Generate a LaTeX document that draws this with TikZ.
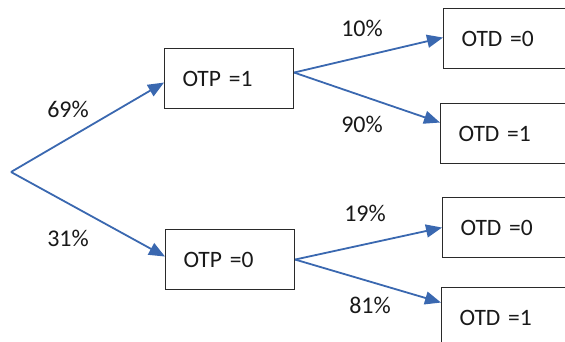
\documentclass[tikz,border=0pt]{standalone}
\usepackage{fontspec}
\setmainfont[WordSpace={0.7,0,0}]{Carlito}
\usetikzlibrary{arrows.meta,calc}
\definecolor{arrowblue}{HTML}{3A68B0}
\definecolor{boxline}{HTML}{2A2A2A}
\tikzset{
  probbox/.style={draw=boxline, line width=1.1pt, rectangle, minimum height=60pt,
    inner xsep=18pt, inner ysep=0pt, align=left, anchor=north west,
    font=\fontsize{23.5}{27}\selectfont, text=black!90},
  conn/.style={draw=arrowblue, line width=1.8pt, -{Triangle[length=16pt,width=13pt]}},
  pct/.style={font=\fontsize{24}{28}\selectfont, text=black!90}
}
\begin{document}
\begin{tikzpicture}[x=1pt,y=-1pt]
\clip (0,0) rectangle (565,342);
\useasboundingbox (0,0) rectangle (565,342);
\coordinate (root) at (11,172);
\node[probbox, text width=93pt] (p1) at (164,48) {OTP =1};
\node[probbox, text width=93pt] (p0) at (165,229) {OTP =0};
\node[probbox, text width=110pt] (d10) at (443,8) {OTD =0};
\node[probbox, text width=110pt] (d11) at (440,103) {OTD =1};
\node[probbox, text width=110pt] (d00) at (442,197) {OTD =0};
\node[probbox, text width=110pt] (d01) at (441,287) {OTD =1};
\draw[conn] (root) -- ($(p1.west)+(0,4)$);
\draw[conn] (root) -- ($(p0.west)+(0,-3)$);
\draw[conn] ($(p1.east)+(0,-6)$) -- ($(d10.west)+(0,-1)$);
\draw[conn] ($(p1.east)+(0,-6)$) -- ($(d11.west)+(0,-11)$);
\draw[conn] (p0.east) -- ($(d00.west)+(0,-0)$);
\draw[conn] (p0.east) -- ($(d01.west)+(0,-15)$);
\node[pct] (l69) at (68,109) {69\%};
\node[pct] (l31) at (68,238) {31\%};
\node[pct] (l10) at (362,28) {10\%};
\node[pct] (l90) at (362,124) {90\%};
\node[pct] (l19) at (365,213) {19\%};
\node[pct] (l81) at (370,305) {81\%};
\end{tikzpicture}
\end{document}
